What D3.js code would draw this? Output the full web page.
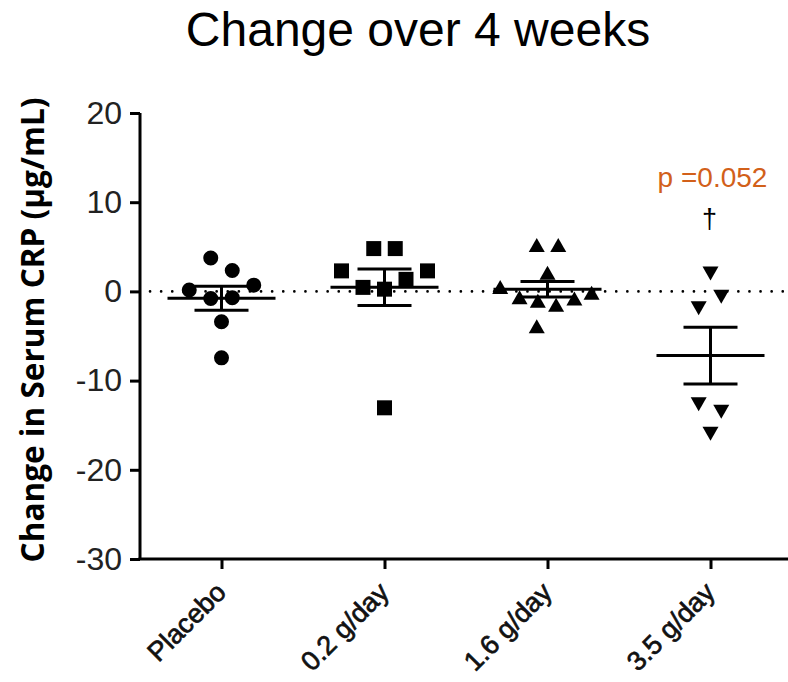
<!DOCTYPE html>
<html>
<head>
<meta charset="utf-8">
<script src="https://cdn.jsdelivr.net/npm/d3@7/dist/d3.min.js"></script>
<style>
  html, body { margin: 0; padding: 0; background: #fff; }
  svg { display: block; }
</style>
</head>
<body>
<svg id="chart" width="788" height="682"></svg>
<script>
// ---- Data ----
const categories = ["Placebo", "0.2 g/day", "1.6 g/day", "3.5 g/day"];
const placeboValues = [3.75, 2.35, 0.7, 0.15, -0.8, -0.7, -3.4, -7.45];
const dose02Values = [4.8, 4.8, 2.3, 2.3, 1.35, 0.45, 0.25, -13.05];
const dose16Values = [5.2, 5.2, 2.1, 0.5, -0.65, -1.05, -1.5, -0.8, -0.15, -3.9];
const dose35Values = [2.0, -0.6, -1.9, -12.65, -13.5, -15.95];
const groupMeans = [-0.77, 0.46, 0.24, -7.2];
const groupSEM = [1.35, 2.05, 0.88, 3.18];
const yTicks = [20, 10, 0, -10, -20, -30];
const pLabel = "p =0.052";
const daggerLabel = "\u2020";
// scatter-column jitter (in marker slots) for each point
const placeboJitter = [-0.5, 0.5, 1.5, -1.5, -0.5, 0.5, 0, 0];
const dose02Jitter = [-0.5, 0.5, -2, 2, 1, -1, 0, 0];
const dose16Jitter = [-0.5, 0.5, 0, -2.2, -1.3, -0.45, 0.4, 1.25, 2.05, -0.5];
const dose35Jitter = [0, 0.5, -0.55, -0.55, 0.5, 0];

const groups = [
  { values: placeboValues, jitter: placeboJitter, shape: "circle" },
  { values: dose02Values, jitter: dose02Jitter, shape: "square" },
  { values: dose16Values, jitter: dose16Jitter, shape: "up" },
  { values: dose35Values, jitter: dose35Jitter, shape: "down" }
];

// ---- Layout ----
const svg = d3.select("#chart");
const axisX = 140, axisBottom = 559, axisTop = 113, rightEnd = 792;
const x = d3.scalePoint().domain(categories).range([axisX, rightEnd]).padding(0.5);
const y = d3.scaleLinear().domain([-30, 20]).range([axisBottom, axisTop]);
const slot = 21.5;

// Title
svg.append("text")
  .attr("x", 418).attr("y", 46)
  .attr("text-anchor", "middle")
  .attr("font-family", "Liberation Sans, Arial, sans-serif")
  .attr("font-size", 48)
  .attr("fill", "#000")
  .text("Change over 4 weeks");

// Y label
const yl = svg.append("text")
  .attr("transform", "translate(44,330) rotate(-90)")
  .attr("text-anchor", "middle")
  .attr("font-family", "Open Sans, sans-serif")
  .attr("font-weight", 700)
  .attr("font-size", 30)
  .attr("fill", "#000")
  .text("Change in Serum CRP (\u00b5g/mL)");
{
  const len = yl.node().getComputedTextLength();
  yl.attr("font-size", 30 * 465 / len);
}

// Zero dotted line
svg.append("line")
  .attr("x1", axisX + 10).attr("x2", 788)
  .attr("y1", y(0)).attr("y2", y(0))
  .attr("stroke", "#000")
  .attr("stroke-width", 2.6)
  .attr("stroke-linecap", "round")
  .attr("stroke-dasharray", "0.1,11");

// Y axis
const yAxis = d3.axisLeft(y).tickValues(yTicks).tickSize(10).tickPadding(8).tickFormat(d => String(d));
const gy = svg.append("g").attr("transform", `translate(${axisX},0)`).call(yAxis);
gy.select(".domain").attr("d", `M0,${axisTop}V${axisBottom}`).attr("stroke-width", 3);
gy.selectAll(".tick line").attr("stroke-width", 3);
gy.selectAll(".tick text")
  .attr("font-family", "Liberation Sans, Arial, sans-serif")
  .attr("font-size", 32)
  .attr("fill", "#222");

// X axis
const xAxis = d3.axisBottom(x).tickSize(10).tickFormat("");
const gx = svg.append("g").attr("transform", `translate(0,${axisBottom})`).call(xAxis);
gx.select(".domain").attr("d", `M${axisX - 1.5},0H${rightEnd}`).attr("stroke-width", 3);
gx.selectAll(".tick line").attr("stroke-width", 3);

// X labels rotated
svg.append("g").selectAll("text")
  .data(categories)
  .join("text")
  .attr("transform", d => `translate(${x(d) + 6},${axisBottom + 35}) rotate(-45)`)
  .attr("text-anchor", "end")
  .attr("font-family", "Liberation Sans, Arial, sans-serif")
  .attr("font-size", 27)
  .attr("fill", "#111")
  .attr("stroke", "#111")
  .attr("stroke-width", 0.7)
  .text(d => d);

// Marker path generators
function markerPath(shape, cx, cy) {
  if (shape === "circle") {
    const r = 7.5;
    return `M${cx - r},${cy}a${r},${r} 0 1,0 ${2 * r},0a${r},${r} 0 1,0 ${-2 * r},0Z`;
  }
  if (shape === "square") {
    const h = 7.5;
    return `M${cx - h},${cy - h}h${2 * h}v${2 * h}h${-2 * h}Z`;
  }
  const w = 8, hh = 7;
  if (shape === "up") {
    return `M${cx},${cy - hh}L${cx + w},${cy + hh}L${cx - w},${cy + hh}Z`;
  }
  return `M${cx - w},${cy - hh}L${cx + w},${cy - hh}L${cx},${cy + hh}Z`;
}

// Points
groups.forEach((g, gi) => {
  const cx0 = x(categories[gi]);
  svg.append("g").selectAll("path")
    .data(g.values)
    .join("path")
    .attr("d", (v, i) => markerPath(g.shape, cx0 + g.jitter[i] * slot, y(v)))
    .attr("fill", "#000");
});

// Mean and SEM bars
const meanHalf = 54, capHalf = 27;
categories.forEach((c, i) => {
  const cx = x(c);
  const m = groupMeans[i], s = groupSEM[i];
  const g = svg.append("g").attr("stroke", "#000").attr("stroke-width", 3).attr("fill", "none");
  g.append("line").attr("x1", cx - meanHalf).attr("x2", cx + meanHalf).attr("y1", y(m)).attr("y2", y(m));
  g.append("line").attr("x1", cx).attr("x2", cx).attr("y1", y(m + s)).attr("y2", y(m - s));
  g.append("line").attr("x1", cx - capHalf).attr("x2", cx + capHalf).attr("y1", y(m + s)).attr("y2", y(m + s));
  g.append("line").attr("x1", cx - capHalf).attr("x2", cx + capHalf).attr("y1", y(m - s)).attr("y2", y(m - s));
});

// Annotations
const lastX = x(categories[3]);
svg.append("text")
  .attr("x", lastX + 2).attr("y", 187)
  .attr("text-anchor", "middle")
  .attr("font-family", "Liberation Sans, Arial, sans-serif")
  .attr("font-size", 28)
  .attr("fill", "#D2601A")
  .text(pLabel);
svg.append("text")
  .attr("x", lastX - 1).attr("y", 228)
  .attr("text-anchor", "middle")
  .attr("font-family", "Liberation Sans, Arial, sans-serif")
  .attr("font-size", 27)
  .attr("fill", "#000")
  .text(daggerLabel);
</script>
</body>
</html>
